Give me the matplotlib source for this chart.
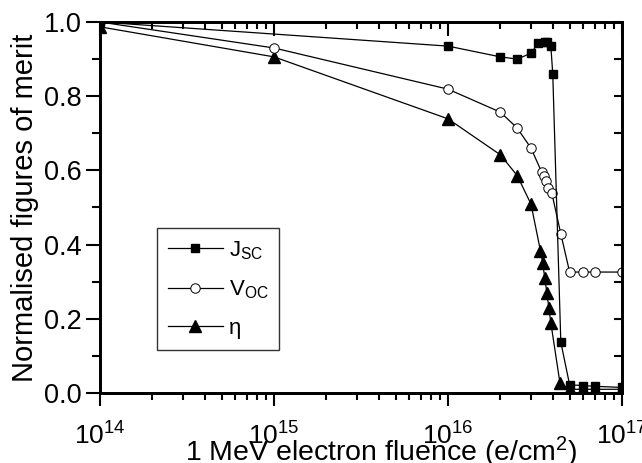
import matplotlib
matplotlib.use("Agg")
import matplotlib.pyplot as plt
from matplotlib.ticker import LogLocator, MultipleLocator, NullFormatter

plt.rcParams["font.family"] = ["Liberation Sans", "DejaVu Sans"]
plt.rcParams["mathtext.fontset"] = "custom"
plt.rcParams["mathtext.rm"] = "Liberation Sans"
plt.rcParams["mathtext.it"] = "Liberation Sans:italic"
plt.rcParams["mathtext.default"] = "regular"

# values
jsc_fluence = [1e14, 1e16, 2e16, 2.5e16, 3e16, 3.3e16, 3.6e16, 3.7e16, 3.9e16,
               4e16, 4.45e16, 5e16, 6e16, 7e16, 1e17]
jsc_values = [1.0, 0.935, 0.906, 0.900, 0.916, 0.943, 0.946, 0.946, 0.935,
              0.860, 0.137, 0.022, 0.020, 0.018, 0.015]

voc_fluence = [1e14, 1e15, 1e16, 2e16, 2.5e16, 3e16, 3.45e16, 3.55e16, 3.65e16,
               3.75e16, 3.95e16, 4.45e16, 5e16, 6e16, 7e16, 1e17]
voc_values = [1.0, 0.930, 0.819, 0.757, 0.714, 0.660, 0.596, 0.586, 0.571,
              0.553, 0.539, 0.429, 0.326, 0.326, 0.326, 0.326]

eta_fluence = [1e14, 1e15, 1e16, 2e16, 2.5e16, 3e16, 3.4e16, 3.5e16, 3.6e16,
               3.7e16, 3.8e16, 3.9e16, 4.4e16, 5e16, 6e16, 7e16, 1e17]
eta_values = [0.987, 0.906, 0.739, 0.642, 0.586, 0.509, 0.383, 0.350, 0.310,
              0.270, 0.229, 0.189, 0.027, 0.010, 0.010, 0.010, 0.010]

fig = plt.figure(figsize=(6.42, 4.63), dpi=100)
ax = fig.add_axes([100 / 642, 70 / 463, 522 / 642, 371 / 463])

ax.plot(eta_fluence, eta_values, color="black", lw=0.9, marker="^", ms=8,
        mfc="black", mec="black", label="η", zorder=2)
ax.plot(voc_fluence, voc_values, color="black", lw=0.9, marker="o", ms=6.8,
        mfc="white", mec="black", mew=0.7, label="V$_{OC}$", zorder=3)
ax.plot(jsc_fluence, jsc_values, color="black", lw=0.9, marker="s", ms=5.8,
        mfc="black", mec="black", label="J$_{SC}$", zorder=4)

ax.set_xscale("log")
ax.set_xlim(1e14, 1e17)
ax.set_ylim(0.0, 1.0)
ax.xaxis.set_major_locator(LogLocator(base=10, numticks=10))
ax.xaxis.set_minor_locator(LogLocator(base=10, subs=range(2, 10), numticks=10))
ax.xaxis.set_minor_formatter(NullFormatter())
ax.yaxis.set_major_locator(MultipleLocator(0.2))
ax.yaxis.set_minor_locator(MultipleLocator(0.1))
ax.yaxis.set_major_formatter(plt.FormatStrFormatter("%.1f"))

ax.tick_params(axis="x", which="major", direction="out", length=9, width=1.5,
               labelsize=19, pad=12.5)
ax.tick_params(axis="x", which="minor", direction="out", length=5, width=1.5)
ax.tick_params(axis="y", which="major", direction="out", length=10, width=1.5,
               labelsize=19.5, pad=3)
ax.tick_params(axis="y", which="minor", direction="out", length=6, width=1.5)

for spine in ax.spines.values():
    spine.set_linewidth(1.8)

# opposite axes carry inward ticks without labels
top = ax.twiny()
top.set_xscale("log")
top.set_xlim(ax.get_xlim())
top.xaxis.set_major_locator(LogLocator(base=10, numticks=10))
top.xaxis.set_minor_locator(LogLocator(base=10, subs=range(2, 10), numticks=10))
top.tick_params(axis="x", which="major", direction="in", length=10, width=1.5,
                labeltop=False)
top.tick_params(axis="x", which="minor", direction="in", length=5, width=1.5)

right = ax.twinx()
right.set_ylim(ax.get_ylim())
right.yaxis.set_major_locator(MultipleLocator(0.2))
right.yaxis.set_minor_locator(MultipleLocator(0.1))
right.tick_params(axis="y", which="both", direction="in", length=6, width=1.5,
                  labelright=False)
for a in (top, right):
    for spine in a.spines.values():
        spine.set_linewidth(1.8)

ax.set_xlabel("1 MeV electron fluence (e/cm$^2$)", fontsize=20.5)
ax.xaxis.set_label_coords(0.538, -0.113)
ax.set_ylabel("Normalised figures of merit", fontsize=21, labelpad=4)

handles, labels = ax.get_legend_handles_labels()
leg = ax.legend(handles[::-1], labels[::-1], loc="upper left",
                bbox_to_anchor=(57 / 522, 165 / 371), borderaxespad=0,
                fontsize=16, frameon=True, fancybox=False, edgecolor="black",
                handlelength=2.45, labelspacing=0.75, handletextpad=0.27,
                borderpad=0.5)
leg.get_frame().set_linewidth(1.0)
leg.set_zorder(10)

fig.savefig("out.png", dpi=100)
